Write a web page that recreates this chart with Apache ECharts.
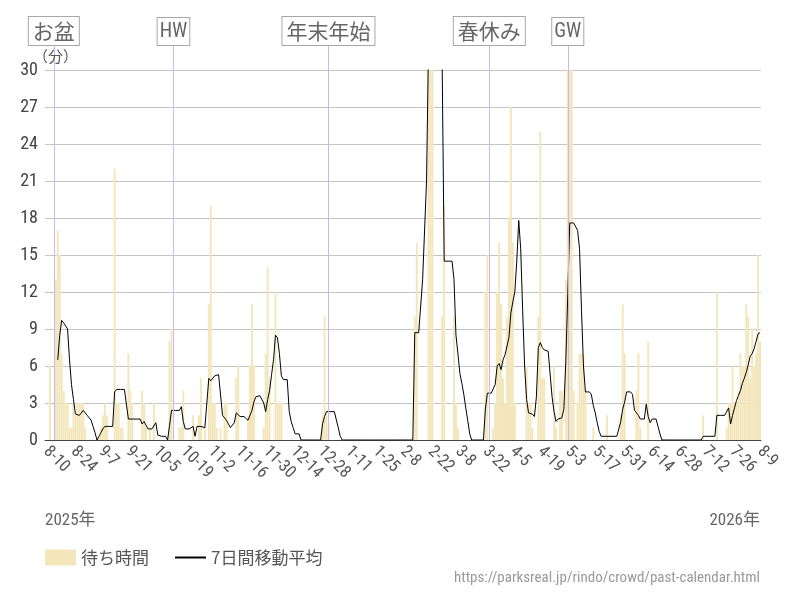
<!DOCTYPE html>
<html><head><meta charset="utf-8">
<script src="https://cdn.jsdelivr.net/npm/echarts@6.0.0/dist/echarts.min.js"></script>
<style>html,body{margin:0;padding:0;background:#fff}#c{width:800px;height:600px}</style>
</head><body><div id="c"></div>
<script>
// ---- data ----
const startDate = [2025, 8, 10];   // first day (y, m, d)
const dayCount = 365;
const yearLabels = ['2025年', '2026年'];
const unitLabel = '（分）';
const holidayNames = ['お盆', 'HW', '年末年始', '春休み', 'GW'];
const holidayDays = ['8-14', '10-14', '1-1', '3-24', '5-3'];
const sourceText = 'https://parksreal.jp/rindo/crowd/past-calendar.html';

// daily wait time (minutes), 2025-8-10 .. 2026-8-9
const waitTimes = [
  0,0,6,0,0,13,17,15,7,4,3,3,1,1,
  3,2,3,3,3,3,1,0,0,0,0,0,0,0.3,
  1,2,3,2,0,0,0,22,3,3,1,1,0,0,
  7,4,3,0,0,0,0,4,3,1,0,1,0,3,
  0,0,0,0,0,0,0,8,9,0,0,0,1,1,
  4,0,0,0,0,2,0,0,2,5,0,1,0,11,
  19,3,3,1,0,1,0,3,3,0,0,0,0,5,
  6,0,0,0,0,2,6,11,6,0,0,0,0,1,
  7,14,5,0,0,12,3,3,3,0,0,0,0,0,
  0,0,0,0,0,0,0,0,0,0,0,0,0,0,
  0,2,10,2,1,0,0,0,0,0,0,0,0,0,
  0,0,0,0,0,0,0,0,0,0,0,0,0,0,
  0,0,0,0,0,0,0,0,0,0,0,0,0,0,
  0,0,0,0,0,0,10,16,0,0,0,0,0,32,
  40,38,0,0,0,0,10,19,0,0,0,0,10,3,
  1,0,0,0,0,0,0,0,0,0,0,0,0,0,
  12,15,0,0,1,3,12,16,11,5,3,10,18,27,
  16,3,0,0,0,0,0,6,3,3,1,0,0,10,
  25,5,5,0,0,0,0,6,1,0,4,4,0,13,
  30,30,30,4,0,3,7,7,7,4,0,0,0,1,
  0,0,0,0,0,0,2,0,0,0,0,0,0,2,
  11,7,0,0,0,0,0,4,7,1,0,0,0,8,
  0,0,0,0,0,0,0,0,0,0,0,0,0,0,
  0,0,0,0,0,0,0,0,0,0,0,0,0,2,
  0,0,0,0,0,0,12,0,0,0,0,1,3,3,
  6,3,3,4,7,6,6,11,10,5,9,6,7,15,8
];

// 7-day moving average as drawn (minutes)
const movingAvg = [
  null,null,null,null,null,null,6.5,8.5,9.7,9.5,9.4,9.0,6.5,4.5,
  3.3,2.1,2.0,2.0,2.0,2.4,2.2,2.0,1.8,1.6,1.1,0.6,0,0.3,
  0.6,0.9,1.1,1.1,1.1,1.1,1.1,3.9,4.1,4.1,4.1,4.1,4.1,4.1,
  1.7,1.7,1.7,1.7,1.7,1.7,1.7,1.3,1.5,1.6,0.9,0.9,0.9,0.9,
  1.4,0.4,0.4,0.3,0.3,0.3,0,1.2,2.4,2.4,2.4,2.4,2.4,2.7,
  1.5,0.9,0.9,0.9,0.9,1.1,0.3,1.1,1.1,1.1,1.0,1.0,1.0,5.0,
  4.8,4.7,5.2,5.3,5.3,5.4,2.0,1.9,1.6,1.3,1.0,1.0,1.4,2.2,
  2.1,1.9,1.9,1.9,1.8,1.6,1.6,2.4,3.1,3.5,3.6,3.6,3.5,3.0,
  2.3,3.3,4.0,5.3,6.5,8.5,8.3,7.0,5.2,4.9,4.9,4.9,2.3,1.5,
  1.0,0.5,0.5,0.5,0,0,0,0,0,0,0,0,0,0,
  0,1.3,1.9,2.3,2.3,2.3,2.3,2.3,2.2,1.0,0.3,0,0,0,
  0,0,0,0,0,0,0,0,0,0,0,0,0,0,
  0,0,0,0,0,0,0,0,0,0,0,0,0,0,
  0,0,0,0,0,0,8.7,8.7,8.7,8.7,13,13,21,32,
  38,38,38,38,38,38,30,14.5,14.5,14.5,14.5,14.5,13,8.5,
  7.0,5.4,4.6,3.7,2.6,1.6,0.5,0,0,0,0,0,0,0,
  2.5,3.8,3.8,3.8,3.8,4.5,6.0,6.2,5.7,6.5,6.9,7.0,8.3,10.3,
  11.2,12.0,14.5,17.8,15.5,10.5,6.0,3.3,2.2,2.1,2.1,1.9,3.5,7.5,
  7.9,7.5,7.3,7.2,7.2,7.1,3.5,2.3,1.5,1.7,1.8,1.8,2.5,6.4,
  11.8,17.6,17.6,17.6,17.6,17.0,15.5,10.5,6.0,3.9,3.9,3.9,3.7,2.8,
  2.2,1.4,0.7,0.3,0.3,0.3,0.3,0.3,0.3,0.3,0.3,0.3,0.3,1.5,
  2.5,3.1,3.9,3.9,3.9,3.7,2.4,2.2,2.0,1.7,1.7,1.7,2.9,1.9,
  1.4,1.7,1.7,1.7,1.7,0.5,0,0,0,0,0,0,0,0,
  0,0,0,0,0,0,0,0,0,0,0,0,0,0.3,
  0.3,0.3,0.3,0.3,0.3,0.3,2.0,2.0,2.0,2.0,2.0,2.0,2.6,1.3,
  2.0,2.6,3.2,3.6,4.0,4.6,5.0,5.5,6.1,6.8,7.0,7.4,8.0,8.6,8.7
];

// ---- categories (month-day) ----
const categories = [];
{
  const d = new Date(startDate[0], startDate[1] - 1, startDate[2]);
  for (let k = 0; k < dayCount; k++) {
    categories.push((d.getMonth() + 1) + '-' + d.getDate());
    d.setDate(d.getDate() + 1);
  }
}

const NARROW = "'Roboto Condensed','Liberation Sans Narrow',Roboto,'Noto Sans CJK JP',sans-serif";
const CJK = "'Noto Sans CJK JP',Roboto,sans-serif";

const chart = echarts.init(document.getElementById('c'), null, {renderer: 'canvas'});
chart.setOption({
  animation: false,
  backgroundColor: '#fff',
  grid: [
    {left: 45, right: 39, top: 70, bottom: 160},
    {left: 45, right: 39, top: 45, bottom: 160}
  ],
  xAxis: [
    {
      type: 'category', data: categories, gridIndex: 0, boundaryGap: true,
      axisLine: {lineStyle: {color: '#444', width: 1}},
      axisTick: {show: false},
      axisLabel: {interval: 13, rotate: -45, fontSize: 17, color: '#555', margin: 9, fontFamily: NARROW}
    },
    {type: 'category', data: categories, gridIndex: 1, show: false, boundaryGap: true}
  ],
  yAxis: [
    {
      type: 'value', gridIndex: 0, min: 0, max: 30, interval: 3,
      axisLine: {show: false}, axisTick: {show: false},
      splitLine: {lineStyle: {color: '#c4c4c4', width: 1}},
      axisLabel: {fontSize: 18, color: '#444', margin: 7, fontFamily: NARROW}
    },
    {type: 'value', gridIndex: 1, min: 0, max: 1, show: false}
  ],
  legend: {
    left: 45, top: 549, padding: 0, itemWidth: 31, itemHeight: 16, itemGap: 25,
    textStyle: {fontSize: 17, color: '#555', fontFamily: CJK},
    data: [
      {name: '待ち時間', icon: 'rect'},
      {name: '7日間移動平均', itemStyle: {opacity: 0}}
    ]
  },
  graphic: [
    {type: 'text', left: 33, top: 49, z: 10, style: {text: unitLabel, fill: '#555', font: '15px ' + CJK}},
    {type: 'text', left: 45, top: 512, style: {text: yearLabels[0], fill: '#666', font: '17px ' + NARROW}},
    {type: 'text', right: 40, top: 512, style: {text: yearLabels[1], fill: '#666', font: '17px ' + NARROW}},
    {type: 'text', right: 40, top: 571, style: {text: sourceText, fill: '#999', font: '15px ' + NARROW}}
  ],
  series: [
    {
      name: '待ち時間', type: 'bar', data: waitTimes, xAxisIndex: 0, yAxisIndex: 0,
      barCategoryGap: '0%', itemStyle: {color: '#f3e6bb'}, clip: true
    },
    {
      name: '7日間移動平均', type: 'line', data: movingAvg, xAxisIndex: 0, yAxisIndex: 0,
      symbol: 'none', showSymbol: false, clip: true,
      lineStyle: {color: '#000', width: 1}, itemStyle: {color: '#000'}
    },
    {
      name: 'holidays', type: 'line', xAxisIndex: 1, yAxisIndex: 1,
      data: categories.map(() => null), symbol: 'none',
      markLine: {
        silent: true, symbol: 'none',
        lineStyle: {color: '#c6b8f2', width: 1, type: 'solid'},
        label: {
          show: true, position: 'end', formatter: '{b}', distance: 0,
          fontSize: 21, lineHeight: 22, color: '#666', fontFamily: CJK,
          backgroundColor: '#fff', borderColor: '#a8a8a8', borderWidth: 1,
          padding: [3, 4, 3, 4]
        },
        data: holidayDays.map((d, k) => {
          const item = {xAxis: d, name: holidayNames[k]};
          if (/^[A-Z]+$/.test(holidayNames[k])) {
            item.label = {fontSize: 20, fontFamily: NARROW, padding: [3, 2, 2, 2]};
          }
          return item;
        })
      }
    }
  ]
});
</script>
</body></html>
